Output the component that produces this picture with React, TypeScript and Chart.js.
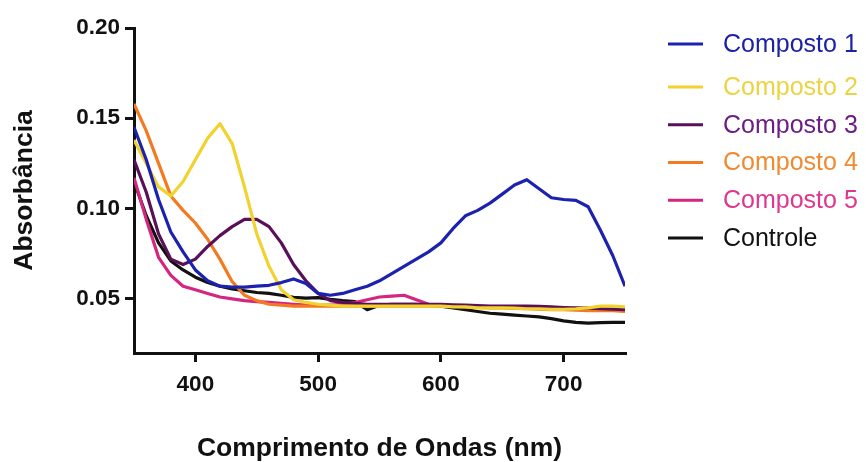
import { useEffect, useRef } from "react";
import { Chart, registerables } from "chart.js";

Chart.register(...registerables);

const WAVELENGTHS = [
  350, 360, 370, 380, 390, 400, 410, 420, 430, 440, 450, 460, 470, 480, 490, 500,
  510, 520, 530, 540, 550, 560, 570, 580, 590, 600, 610, 620, 630, 640, 650, 660,
  670, 680, 690, 700, 710, 720, 730, 740, 750,
];

const COMPOSTO_1 = [
  0.145, 0.127, 0.105, 0.087, 0.076, 0.066, 0.06, 0.057, 0.0565, 0.0565, 0.057, 0.0575,
  0.059, 0.061, 0.0585, 0.053, 0.052, 0.053, 0.055, 0.057, 0.06, 0.064, 0.068, 0.072,
  0.076, 0.081, 0.089, 0.096, 0.099, 0.103, 0.108, 0.113, 0.116, 0.111, 0.106, 0.105,
  0.1045, 0.101, 0.088, 0.074, 0.057,
];

const COMPOSTO_2 = [
  0.138, 0.125, 0.112, 0.107, 0.115, 0.127, 0.139, 0.147, 0.136, 0.112, 0.086, 0.068,
  0.055, 0.0495, 0.048, 0.047, 0.0465, 0.046, 0.046, 0.046, 0.046, 0.046, 0.046, 0.046,
  0.046, 0.046, 0.0455, 0.0455, 0.045, 0.045, 0.045, 0.0448, 0.0445, 0.0445, 0.0442,
  0.0442, 0.0445, 0.045, 0.046, 0.046, 0.0455,
];

const COMPOSTO_3 = [
  0.127, 0.109, 0.086, 0.072, 0.069, 0.072, 0.079, 0.085, 0.09, 0.094, 0.094, 0.09,
  0.081, 0.069, 0.06, 0.053, 0.049, 0.048, 0.0475, 0.047, 0.047, 0.047, 0.047, 0.047,
  0.047, 0.047, 0.0467, 0.0465, 0.0462, 0.046, 0.046, 0.046, 0.046, 0.0458, 0.0455,
  0.0452, 0.045, 0.0448, 0.0445, 0.0443, 0.044,
];

const COMPOSTO_4 = [
  0.158, 0.143, 0.125, 0.107, 0.099, 0.092, 0.083, 0.072, 0.0595, 0.052, 0.049, 0.047,
  0.0465, 0.046, 0.046, 0.046, 0.046, 0.046, 0.046, 0.046, 0.046, 0.046, 0.046, 0.046,
  0.046, 0.046, 0.0458, 0.0455, 0.0452, 0.045, 0.045, 0.0447, 0.0445, 0.0443, 0.044,
  0.044, 0.0438, 0.0435, 0.0435, 0.0435, 0.043,
];

const COMPOSTO_5 = [
  0.117, 0.094, 0.073, 0.063, 0.057, 0.055, 0.053, 0.051, 0.05, 0.049, 0.0485, 0.048,
  0.0475, 0.047, 0.0465, 0.0465, 0.0465, 0.047, 0.048, 0.0495, 0.051, 0.0515, 0.052,
  0.0495, 0.047, 0.046, 0.046, 0.0458, 0.0455, 0.0455, 0.0452, 0.045, 0.045, 0.0448,
  0.0445, 0.0445, 0.0442, 0.044, 0.044, 0.0438, 0.0435,
];

const CONTROLE = [
  0.115, 0.096, 0.081, 0.071, 0.066, 0.062, 0.059, 0.057, 0.0555, 0.0545, 0.0535, 0.053,
  0.052, 0.0508, 0.0504, 0.0507, 0.0497, 0.049, 0.0485, 0.044, 0.0465, 0.047, 0.047,
  0.047, 0.0465, 0.046, 0.045, 0.044, 0.043, 0.042, 0.0415, 0.041, 0.0405, 0.04, 0.039,
  0.0378, 0.037, 0.0365, 0.0368, 0.037, 0.037,
];

const SERIES_NAMES = ["Composto 1", "Composto 2", "Composto 3", "Composto 4", "Composto 5", "Controle"];
const LINE_COLORS = ["#1c22ae", "#f1d22e", "#5a1058", "#f47a22", "#d42680", "#111111"];
const TEXT_COLORS = ["#1c22a6", "#ead443", "#6c1e86", "#f08a30", "#e0368e", "#111111"];

const X_TICKS = [400, 500, 600, 700];
const Y_TICKS = [0.05, 0.1, 0.15, 0.2];

const X_TITLE = "Comprimento de Ondas (nm)";
const Y_TITLE = "Absorbância";

const FONT = '"Liberation Sans", Arial, Helvetica, sans-serif';

export default function App() {
  const ref = useRef<HTMLCanvasElement | null>(null);

  useEffect(() => {
    if (!ref.current) return;
    const series = [COMPOSTO_1, COMPOSTO_2, COMPOSTO_3, COMPOSTO_4, COMPOSTO_5, CONTROLE];

    const sideLegend = {
      id: "sideLegend",
      afterDraw(chart: any) {
        const ctx = chart.ctx;
        ctx.save();
        ctx.font = `25px ${FONT}`;
        ctx.textBaseline = "middle";
        ctx.textAlign = "left";
        chart.data.datasets.forEach((ds: any, i: number) => {
          const y = i === 0 ? 44 : 87 + (i - 1) * 37.75;
          ctx.fillStyle = ds.borderColor;
          ctx.fillRect(668, y - 1.5, 35, 3);
          ctx.fillStyle = TEXT_COLORS[i];
          ctx.fillText(ds.label, 723, y + 1);
        });
        ctx.restore();
      },
    };

    const chart = new Chart(ref.current, {
      type: "line",
      data: {
        datasets: series.map((vals, i) => ({
          label: SERIES_NAMES[i],
          data: WAVELENGTHS.map((x, j) => ({ x, y: vals[j] })),
          borderColor: LINE_COLORS[i],
          backgroundColor: LINE_COLORS[i],
          borderWidth: 3.2,
          pointRadius: 0,
          tension: 0,
          fill: false,
          borderJoinStyle: "round" as const,
        })),
      },
      options: {
        animation: false,
        responsive: true,
        maintainAspectRatio: false,
        layout: { padding: { left: 0, top: 28, right: 241, bottom: 0 } },
        plugins: {
          legend: { display: false },
          tooltip: { enabled: false },
        },
        scales: {
          x: {
            type: "linear",
            min: 350,
            max: 750,
            afterBuildTicks: (s: any) => {
              s.ticks = X_TICKS.map((v) => ({ value: v }));
            },
            afterFit: (s: any) => {
              s.height = 109;
            },
            ticks: {
              autoSkip: false,
              maxRotation: 0,
              padding: 9,
              color: "#111",
              font: { family: FONT, size: 22.5, weight: "bold" },
              callback: (v: any) => String(v),
            },
            grid: {
              drawOnChartArea: false,
              drawTicks: true,
              tickLength: 9,
              tickWidth: 3,
              tickColor: "#111",
              color: "#111",
              lineWidth: 3,
            },
            border: { display: true, width: 3, color: "#111" },
            title: {
              display: true,
              text: X_TITLE,
              color: "#111",
              font: { family: FONT, size: 26.5, weight: "bold", lineHeight: 1 },
              padding: { top: 0, bottom: 0 },
            },
          },
          y: {
            type: "linear",
            min: 0.02,
            max: 0.2,
            afterBuildTicks: (s: any) => {
              s.ticks = Y_TICKS.map((v) => ({ value: v }));
            },
            afterFit: (s: any) => {
              s.width = 134;
            },
            ticks: {
              padding: 5,
              color: "#111",
              font: { family: FONT, size: 22.5, weight: "bold" },
              callback: (v: any) => Number(v).toFixed(2),
            },
            grid: {
              drawOnChartArea: false,
              drawTicks: true,
              tickLength: 9,
              tickWidth: 3,
              tickColor: "#111",
              color: "#111",
              lineWidth: 3,
            },
            border: { display: true, width: 3, color: "#111" },
            title: {
              display: true,
              text: Y_TITLE,
              color: "#111",
              font: { family: FONT, size: 26.5, weight: "bold", lineHeight: 1 },
              padding: { top: 11, bottom: 0 },
            },
          },
        },
      },
      plugins: [sideLegend],
    });

    return () => chart.destroy();
  }, []);

  return (
    <div style={{ position: "fixed", left: 0, top: 0, width: 866, height: 462, background: "#fff" }}>
      <canvas ref={ref} />
    </div>
  );
}
